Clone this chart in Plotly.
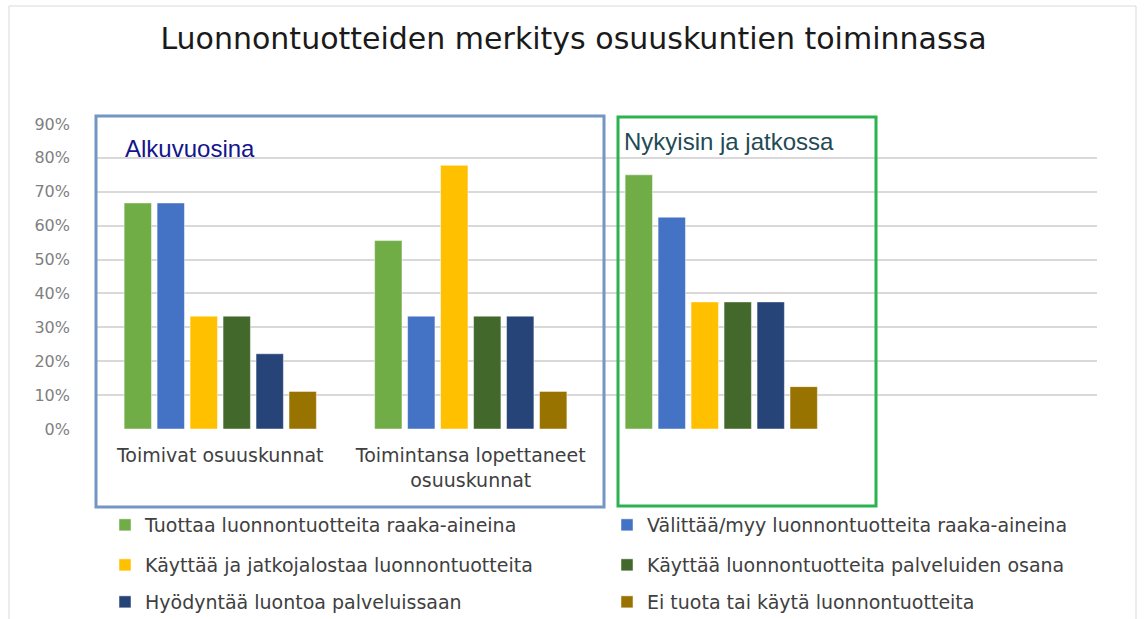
import plotly.graph_objects as go

categories = ["Toimivat osuuskunnat", "Toimintansa lopettaneet<br>osuuskunnat", ""]
series_names = [
    "Tuottaa luonnontuotteita raaka-aineina",
    "Välittää/myy luonnontuotteita raaka-aineina",
    "Käyttää ja jatkojalostaa luonnontuotteita",
    "Käyttää luonnontuotteita palveluiden osana",
    "Hyödyntää luontoa palveluissaan",
    "Ei tuota tai käytä luonnontuotteita",
]
tuottaa = [0.667, 0.556, 0.75]
valittaa = [0.667, 0.333, 0.625]
jatkojalostaa = [0.333, 0.778, 0.375]
palveluiden_osana = [0.333, 0.333, 0.375]
hyodyntaa = [0.222, 0.333, 0.375]
ei_tuota = [0.111, 0.111, 0.125]
values = [tuottaa, valittaa, jatkojalostaa, palveluiden_osana, hyodyntaa, ei_tuota]
colors = ["#70AD47", "#4472C4", "#FFC000", "#43682B", "#264478", "#997300"]
legend_ids = ["legend", "legend", "legend2", "legend2", "legend3", "legend3"]
tick_values = [0, 0.1, 0.2, 0.3, 0.4, 0.5, 0.6, 0.7, 0.8, 0.9]
tick_labels = ["0%", "10%", "20%", "30%", "40%", "50%", "60%", "70%", "80%", "90%"]

x_pos = list(range(len(categories)))

fig = go.Figure()
for name, vals, col, lg in zip(series_names, values, colors, legend_ids):
    fig.add_trace(go.Bar(
        x=x_pos, y=vals, name=name, legend=lg,
        marker=dict(color=col, line=dict(color="rgba(255,255,255,0.6)", width=0.8)),
    ))

# plot area: x 95..1097 px, y 124..429 px
L, R, T, B = 95, 1097, 124, 429
W, H = R - L, B - T
def px(x):
    return (x - L) / W
def py(y):
    return (B - y) / H

legend_common = dict(
    orientation="h", xref="paper", yref="paper", xanchor="left", yanchor="middle",
    font=dict(family="DejaVu Sans", size=19, color="#404040"),
    entrywidth=457, entrywidthmode="pixels", bgcolor="rgba(0,0,0,0)",
    itemclick=False, itemdoubleclick=False,
)

fig.update_layout(
    width=1147, height=619,
    margin=dict(l=L, r=1147 - R, t=T, b=619 - B, autoexpand=False),
    paper_bgcolor="white", plot_bgcolor="white",
    barmode="group", bargap=0.21, bargroupgap=0.17,
    title=dict(
        text="Luonnontuotteiden merkitys osuuskuntien toiminnassa",
        xref="container", x=0.5, xanchor="center",
        yref="container", y=1 - 38 / 619, yanchor="middle",
        font=dict(family="DejaVu Sans", size=30, color="#1a1a1a"),
    ),
    xaxis=dict(
        range=[-0.5, 3.5], tickmode="array", tickvals=x_pos, ticktext=categories,
        showgrid=False, zeroline=False, showline=False, ticks="",
        tickfont=dict(family="DejaVu Sans", size=19, color="#404040"),
        ticklabelstandoff=13,
    ),
    yaxis=dict(
        range=[0, 0.9], tickmode="array", tickvals=tick_values, ticktext=tick_labels,
        showgrid=True, gridcolor="#d9d9d9", gridwidth=2, zeroline=False, showline=False,
        tickfont=dict(family="DejaVu Sans", size=16, color="#7f7f7f"),
        ticklabelstandoff=24,
    ),
    legend=dict(**legend_common, x=px(105), y=py(525)),
    legend2=dict(**legend_common, x=px(105), y=py(565)),
    legend3=dict(**legend_common, x=px(105), y=py(602)),
    shapes=[
        dict(type="rect", xref="paper", yref="paper",
             x0=px(9), x1=px(1136), y0=py(660), y1=py(6),
             line=dict(color="#d9d9d9", width=1), layer="below"),
        dict(type="rect", xref="paper", yref="paper",
             x0=px(96), x1=px(604), y0=py(507), y1=py(116),
             line=dict(color="#7396C4", width=3)),
        dict(type="rect", xref="paper", yref="paper",
             x0=px(618), x1=px(876), y0=py(506), y1=py(117),
             line=dict(color="#2CB34F", width=3)),
    ],
    annotations=[
        dict(text="Alkuvuosina", xref="paper", yref="paper", x=px(123), y=py(148),
             xanchor="left", yanchor="middle", showarrow=False,
             font=dict(family="Liberation Sans", size=24, color="#14148C")),
        dict(text="Nykyisin ja jatkossa", xref="paper", yref="paper", x=px(622), y=py(141),
             xanchor="left", yanchor="middle", showarrow=False,
             font=dict(family="Liberation Sans", size=24, color="#1F4B55")),
    ],
)

fig.write_html("out.html", config={"displayModeBar": False},
               post_script="document.body.style.margin='0';")
